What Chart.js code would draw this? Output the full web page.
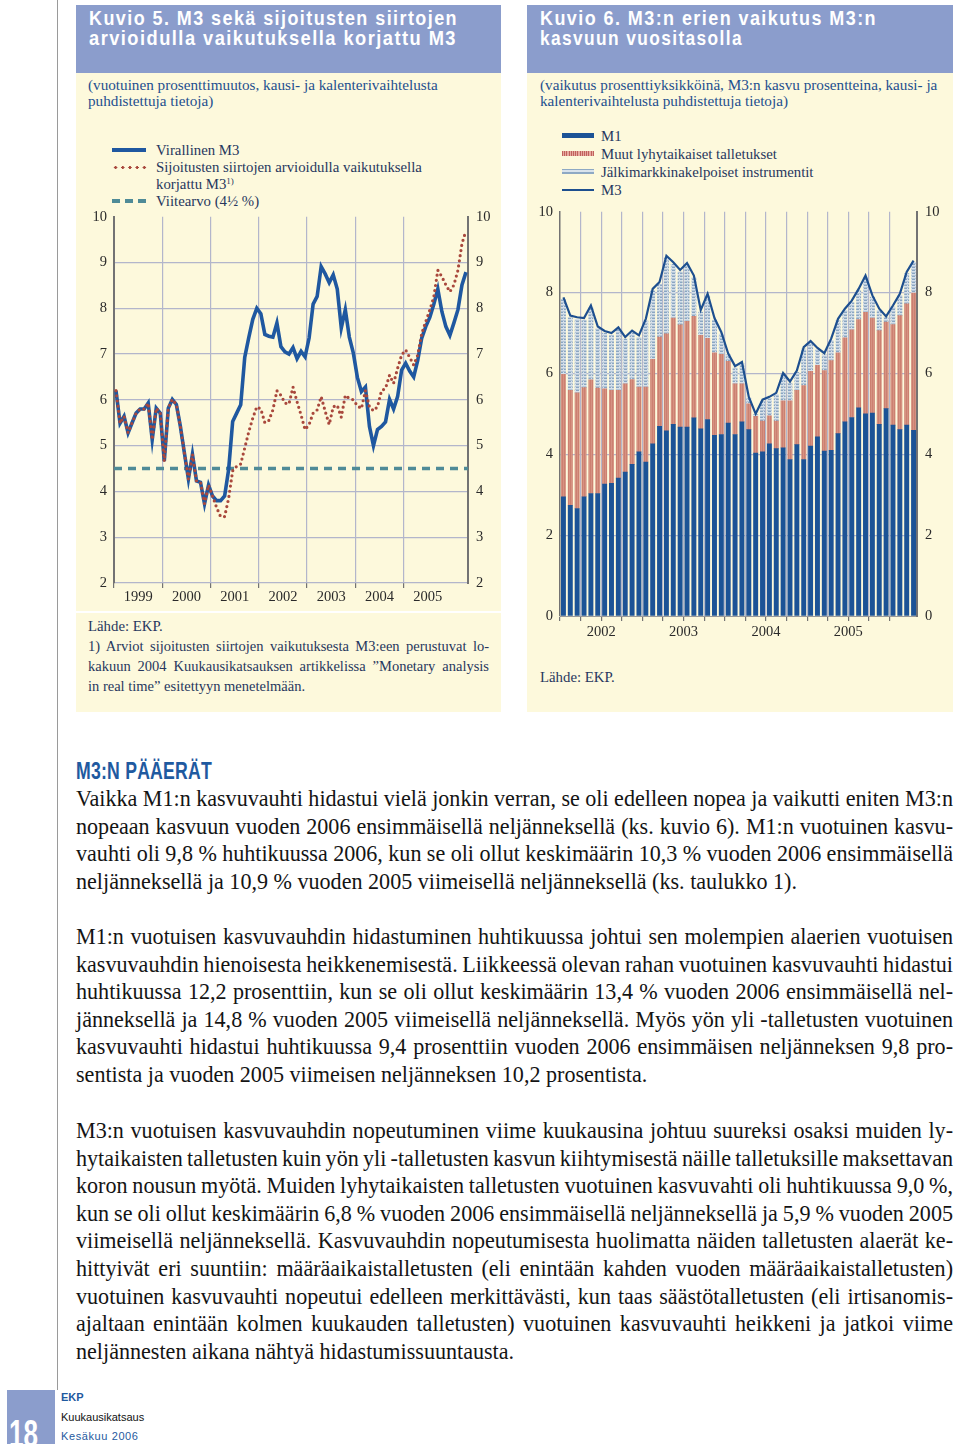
<!DOCTYPE html>
<html><head><meta charset="utf-8">
<script src="https://cdn.jsdelivr.net/npm/chart.js@4.4.0/dist/chart.umd.min.js"></script>
<style>
body{margin:0;width:960px;height:1444px;position:relative;background:#fff;overflow:hidden;font-family:'Liberation Serif','Times New Roman',serif;}
.abs{position:absolute;}
.panel{position:absolute;background:#fdf9dc;}
.tbar{position:absolute;background:#8b9dcc;}
.tline{position:absolute;color:#fff;font-family:'Liberation Sans',Arial,sans-serif;font-weight:bold;font-size:20px;letter-spacing:1.6px;line-height:20px;white-space:nowrap;transform-origin:0 50%;}
.sub{position:absolute;color:#1d4f8f;font-size:15.2px;line-height:16px;white-space:nowrap;}
.leg{position:absolute;color:#27375e;font-size:14.8px;line-height:17px;white-space:nowrap;}
.sym{position:absolute;}
.body{position:absolute;left:76px;width:877px;font-size:22.1px;line-height:27.6px;color:#141414;}
.body div, .fn div{white-space:nowrap;}
.fn{position:absolute;left:88px;width:401px;font-size:14.5px;line-height:20px;color:#27375e;}
.fit{display:inline-block;transform-origin:0 50%;white-space:nowrap;}
canvas{position:absolute;}
</style></head>
<body>
<!-- page margin line and page number -->
<div class="abs" style="left:57px;top:0;width:1px;height:1390px;background:#9a9a9a"></div>
<div class="abs" style="left:7px;top:1390px;width:48px;height:54px;background:#8b9dcc;overflow:hidden">
  <div class="abs" style="left:2px;top:24px;"><span class="fit" data-w="29" style="color:#fff;font-family:'Liberation Sans',Arial,sans-serif;font-weight:bold;font-size:39px;line-height:39px">18</span></div>
</div>
<div class="abs" style="left:61px;top:1390px;font-family:'Liberation Sans',sans-serif;font-size:11px;line-height:14px;font-weight:bold;color:#1f5aa0">EKP</div>
<div class="abs" style="left:61px;top:1410px;font-family:'Liberation Sans',sans-serif;font-size:11px;line-height:14px;color:#111">Kuukausikatsaus</div>
<div class="abs" style="left:61px;top:1429px;font-family:'Liberation Sans',sans-serif;font-size:11px;line-height:14px;letter-spacing:0.6px;color:#1f5aa0">Kesäkuu 2006</div>

<!-- Left panel -->
<div class="tbar" style="left:76px;top:5px;width:425px;height:68px"></div>
<div class="tline fit" data-w="369" style="left:89px;top:8px">Kuvio 5. M3 sekä sijoitusten siirtojen</div>
<div class="tline fit" data-w="368" style="left:89px;top:28px">arvioidulla vaikutuksella korjattu M3</div>
<div class="panel" style="left:76px;top:73px;width:425px;height:538px"></div>
<div class="panel" style="left:76px;top:613px;width:425px;height:99px"></div>
<div class="sub" style="left:88px;top:77px">(vuotuinen prosenttimuutos, kausi- ja kalenterivaihtelusta<br>puhdistettuja tietoja)</div>
<div class="sym" style="left:112px;top:148px;width:34px;height:3.5px;background:#1f58a0"></div>
<div class="sym" style="left:112px;top:165.5px;width:36px;height:3px;background:radial-gradient(circle,#a9483c 1.4px,transparent 1.6px) 0 0/7.2px 3px repeat-x"></div>
<div class="sym" style="left:112px;top:199px;width:36px;height:3.5px;background:repeating-linear-gradient(90deg,#4f8b97 0 8px,transparent 8px 13px)"></div>
<div class="leg" style="left:156px;top:141.5px">Virallinen M3<br>Sijoitusten siirtojen arvioidulla vaikutuksella<br>korjattu M3<sup style="font-size:9px;line-height:0;vertical-align:5px">1)</sup><br>Viitearvo (4½ %)</div>
<canvas id="c1" width="420" height="410" style="left:80px;top:200px"></canvas>
<div class="leg" style="left:88px;top:617px;line-height:18px">Lähde: EKP.</div>
<div class="fn" style="top:636px">
<div>1) Arviot sijoitusten siirtojen vaikutuksesta M3:een perustuvat lo-</div>
<div>kakuun 2004 Kuukausikatsauksen artikkelissa ”Monetary analysis</div>
<div class="last">in real time” esitettyyn menetelmään.</div>
</div>

<!-- Right panel -->
<div class="tbar" style="left:527px;top:5px;width:426px;height:68px"></div>
<div class="tline fit" data-w="337" style="left:540px;top:8px">Kuvio 6. M3:n erien vaikutus M3:n</div>
<div class="tline fit" data-w="203" style="left:540px;top:28px">kasvuun vuositasolla</div>
<div class="panel" style="left:527px;top:73px;width:426px;height:639px"></div>
<div class="sub" style="left:540px;top:77px">(vaikutus prosenttiyksikköinä, M3:n kasvu prosentteina, kausi- ja<br>kalenterivaihtelusta puhdistettuja tietoja)</div>
<div class="sym" style="left:562px;top:133px;width:32px;height:5px;background:#1c5396"></div>
<div class="sym" style="left:562px;top:151px;width:32px;height:5px;background:repeating-linear-gradient(90deg,#c0625c 0 1px,#e7aaa0 1px 2.2px)"></div>
<div class="sym" style="left:562px;top:169px;width:32px;height:5px;background:linear-gradient(#8ea9c4 0 1.5px,#d9e3ec 1.5px 3.5px,#8ea9c4 3.5px 5px)"></div>
<div class="sym" style="left:562px;top:188.5px;width:32px;height:2px;background:#1d4f8f"></div>
<div class="leg" style="left:601px;top:127px;line-height:18px">M1<br>Muut lyhytaikaiset talletukset<br>Jälkimarkkinakelpoiset instrumentit<br>M3</div>
<canvas id="c2" width="425" height="450" style="left:528px;top:195px"></canvas>
<div class="leg" style="left:540px;top:668px;line-height:18px">Lähde: EKP.</div>

<!-- Body text -->
<div class="abs" style="left:76px;top:757px;"><span class="fit" data-w="136" style="font-family:'Liberation Sans',Arial,sans-serif;font-weight:bold;font-size:24px;line-height:28px;color:#1f5aa0;letter-spacing:0.3px">M3:N PÄÄERÄT</span></div>
<div class="body" style="top:785px">
<div>Vaikka M1:n kasvuvauhti hidastui vielä jonkin verran, se oli edelleen nopea ja vaikutti eniten M3:n</div>
<div>nopeaan kasvuun vuoden 2006 ensimmäisellä neljänneksellä (ks. kuvio 6). M1:n vuotuinen kasvu-</div>
<div>vauhti oli 9,8 % huhtikuussa 2006, kun se oli ollut keskimäärin 10,3 % vuoden 2006 ensimmäisellä</div>
<div class="last">neljänneksellä ja 10,9 % vuoden 2005 viimeisellä neljänneksellä (ks. taulukko 1).</div>
</div>
<div class="body" style="top:923px">
<div>M1:n vuotuisen kasvuvauhdin hidastuminen huhtikuussa johtui sen molempien alaerien vuotuisen</div>
<div>kasvuvauhdin hienoisesta heikkenemisestä. Liikkeessä olevan rahan vuotuinen kasvuvauhti hidastui</div>
<div>huhtikuussa 12,2 prosenttiin, kun se oli ollut keskimäärin 13,4 % vuoden 2006 ensimmäisellä nel-</div>
<div>jänneksellä ja 14,8 % vuoden 2005 viimeisellä neljänneksellä. Myös yön yli -talletusten vuotuinen</div>
<div>kasvuvauhti hidastui huhtikuussa 9,4 prosenttiin vuoden 2006 ensimmäisen neljänneksen 9,8 pro-</div>
<div class="last">sentista ja vuoden 2005 viimeisen neljänneksen 10,2 prosentista.</div>
</div>
<div class="body" style="top:1117px">
<div>M3:n vuotuisen kasvuvauhdin nopeutuminen viime kuukausina johtuu suureksi osaksi muiden ly-</div>
<div>hytaikaisten talletusten kuin yön yli -talletusten kasvun kiihtymisestä näille talletuksille maksettavan</div>
<div>koron nousun myötä. Muiden lyhytaikaisten talletusten vuotuinen kasvuvahti oli huhtikuussa 9,0 %,</div>
<div>kun se oli ollut keskimäärin 6,8 % vuoden 2006 ensimmäisellä neljänneksellä ja 5,9 % vuoden 2005</div>
<div>viimeisellä neljänneksellä. Kasvuvauhdin nopeutumisesta huolimatta näiden talletusten alaerät ke-</div>
<div>hittyivät eri suuntiin: määräaikaistalletusten (eli enintään kahden vuoden määräaikaistalletusten)</div>
<div>vuotuinen kasvuvauhti nopeutui edelleen merkittävästi, kun taas säästötalletusten (eli irtisanomis-</div>
<div>ajaltaan enintään kolmen kuukauden talletusten) vuotuinen kasvuvauhti heikkeni ja jatkoi viime</div>
<div class="last">neljännesten aikana nähtyä hidastumissuuntausta.</div>
</div>

<script>
// ---------- text fitting (layout only) ----------
document.querySelectorAll('.fit').forEach(el => {
  const w = parseFloat(el.dataset.w);
  const nat = el.getBoundingClientRect().width;
  if (nat > 0) el.style.transform = 'scaleX(' + (w / nat) + ')';
});
function justify(sel, width) {
  document.querySelectorAll(sel).forEach(d => {
    if (d.classList.contains('last')) return;
    const span = document.createElement('span');
    span.textContent = d.textContent;
    d.textContent = '';
    d.appendChild(span);
    const nat = span.getBoundingClientRect().width;
    const spaces = (span.textContent.match(/ /g) || []).length;
    if (spaces > 0) d.style.wordSpacing = ((width - nat) / spaces) + 'px';
  });
}
justify('.body div', 877);
justify('.fn div', 401);

// ---------- Data: Kuvio 5 (monthly, Jan 1999 - Apr 2006) ----------
const yearsLeft = ['1999', '2000', '2001', '2002', '2003', '2004', '2005'];
const m3Official = [
  6.20, 5.49, 5.64, 5.28, 5.50, 5.71, 5.80, 5.80, 5.93, 5.13, 5.82, 5.71,
  4.66, 5.82, 6.01, 5.90, 5.42, 4.84, 4.27, 4.81, 4.23, 4.20, 3.73, 4.14,
  3.90, 3.80, 3.80, 3.90, 4.48, 5.53, 5.71, 5.89, 6.93, 7.36, 7.76, 8.00,
  7.88, 7.43, 7.39, 7.37, 7.68, 7.16, 7.05, 7.00, 7.14, 6.90, 7.06, 6.94,
  7.35, 8.09, 8.26, 8.91, 8.75, 8.56, 8.73, 8.42, 7.57, 7.97, 7.37, 7.02,
  6.49, 6.18, 6.28, 5.42, 5.00, 5.35, 5.42, 5.52, 6.01, 5.80, 6.07, 6.65,
  6.80, 6.63, 6.50, 6.86, 7.35, 7.60, 7.80, 8.09, 8.42, 7.93, 7.60, 7.41,
  7.68, 7.97, 8.51, 8.79
];
const m3Corrected = [
  6.20, 5.49, 5.64, 5.28, 5.50, 5.71, 5.80, 5.80, 5.93, 5.13, 5.82, 5.71,
  4.66, 5.82, 6.01, 5.90, 5.42, 4.84, 4.27, 4.81, 4.23, 4.20, 3.73, 4.14,
  3.90, 3.65, 3.45, 3.45, 3.85, 4.45, 4.55, 4.60, 4.95, 5.30, 5.60, 5.85,
  5.80, 5.50, 5.55, 5.78, 6.20, 6.10, 5.93, 5.91, 6.28, 5.96, 5.67, 5.35,
  5.46, 5.71, 5.78, 6.07, 5.75, 5.46, 5.85, 5.88, 5.62, 6.10, 6.03, 6.00,
  5.87, 5.81, 6.20, 5.85, 5.76, 5.85, 6.20, 6.25, 6.54, 6.36, 6.69, 6.98,
  7.09, 6.93, 6.76, 6.98, 7.45, 7.71, 7.96, 8.25, 8.83, 8.69, 8.51, 8.36,
  8.51, 8.83, 9.41, 9.70
];
const referenceValue = 4.5;

// ---------- Data: Kuvio 6 (monthly, Jan 2002 - Apr 2006) ----------
const yearsRight = ['2002', '2003', '2004', '2005'];
const m1Contribution = [
  2.95, 2.74, 2.66, 2.95, 3.03, 3.03, 3.26, 3.28, 3.41, 3.56, 3.75, 4.06,
  3.81, 4.26, 4.69, 4.58, 4.74, 4.67, 4.67, 4.90, 4.63, 4.86, 4.47, 4.49,
  4.77, 4.49, 4.80, 4.61, 4.03, 4.06, 4.26, 4.14, 4.16, 3.87, 4.24, 3.87,
  4.20, 4.43, 4.08, 4.10, 4.51, 4.80, 4.91, 5.15, 5.00, 5.02, 4.74, 5.13,
  4.72, 4.61, 4.72, 4.59
];
const otherShortTermDeposits = [
  3.03, 2.84, 2.86, 2.70, 2.81, 2.61, 2.36, 2.30, 2.17, 2.18, 2.10, 1.60,
  1.85, 2.09, 2.21, 2.40, 2.63, 2.53, 2.62, 2.51, 2.31, 2.01, 2.04, 1.98,
  1.53, 1.25, 0.94, 0.64, 0.91, 0.76, 0.69, 0.68, 1.16, 1.45, 1.34, 1.83,
  1.85, 1.77, 1.99, 2.22, 2.00, 2.08, 2.17, 2.18, 2.51, 2.35, 2.32, 2.14,
  2.49, 2.82, 3.00, 3.40
];
const marketableInstruments = [
  1.85, 1.80, 1.82, 1.67, 1.79, 1.47, 1.38, 1.37, 1.51, 1.11, 1.16, 1.23,
  1.64, 1.69, 1.31, 1.88, 1.33, 1.31, 1.39, 0.96, 0.58, 1.05, 0.81, 0.50,
  0.16, 0.40, 0.50, 0.14, 0.04, 0.49, 0.43, 0.66, 0.65, 0.44, 0.45, 0.90,
  0.70, 0.39, 0.39, 0.50, 0.80, 0.68, 0.68, 0.72, 0.87, 0.52, 0.50, 0.11,
  0.43, 0.50, 0.75, 0.76
];
const m3Growth = [
  7.88, 7.43, 7.39, 7.37, 7.68, 7.16, 7.05, 7.00, 7.14, 6.90, 7.06, 6.94,
  7.35, 8.09, 8.26, 8.91, 8.75, 8.56, 8.73, 8.42, 7.57, 7.97, 7.37, 7.02,
  6.49, 6.18, 6.28, 5.42, 5.00, 5.35, 5.42, 5.52, 6.01, 5.80, 6.07, 6.65,
  6.80, 6.63, 6.50, 6.86, 7.35, 7.60, 7.80, 8.09, 8.42, 7.93, 7.60, 7.41,
  7.68, 7.97, 8.51, 8.79
];

// ---------- helpers ----------
const monthly = arr => arr.map((v, i) => ({x: i + 0.5, y: v}));
const GRID = '#b3b6cb';
const AXIS = '#737373';
const TICKFONT = {family: "'Liberation Serif', 'Times New Roman', serif", size: 14.5};
const TICKCOL = '#2a2a2a';
Chart.defaults.font.family = TICKFONT.family;

// ---------- Chart 1 ----------
const nLeft = m3Official.length;
new Chart(document.getElementById('c1'), {
  type: 'line',
  data: {
    datasets: [
      {label: 'Sijoitusten siirtojen arvioidulla vaikutuksella korjattu M3', data: monthly(m3Corrected),
       borderColor: '#a9483c', borderWidth: 3.2, borderDash: [0, 5.2], borderCapStyle: 'round',
       pointRadius: 0, tension: 0, order: 0},
      {label: 'Virallinen M3', data: monthly(m3Official), borderColor: '#1f58a0', borderWidth: 3.6,
       pointRadius: 0, tension: 0, order: 1, borderJoinStyle: 'miter'},
      {label: 'Viitearvo (4½ %)', data: [{x: 0, y: referenceValue}, {x: nLeft, y: referenceValue}],
       borderColor: '#4f8b97', borderWidth: 3.6, borderDash: [8, 6], pointRadius: 0, order: 2}
    ]
  },
  options: {
    responsive: false, animation: false, devicePixelRatio: 1,
    layout: {padding: {top: 16, left: 0, right: 0, bottom: 0}},
    plugins: {legend: {display: false}, tooltip: {enabled: false}},
    scales: {
      x: {
        type: 'linear', min: 0, max: nLeft,
        afterFit: s => { s.height = 27; },
        border: {display: false},
        grid: {
          color: c => (c.tick && c.tick.value % 12 === 0 && c.tick.value > 0) ? GRID : 'rgba(0,0,0,0)',
          tickColor: c => (c.tick && c.tick.value % 12 === 0) ? AXIS : 'rgba(0,0,0,0)',
          lineWidth: 1.2, tickLength: 5, drawTicks: true
        },
        ticks: {
          stepSize: 6, autoSkip: false, maxRotation: 0, padding: 0, font: TICKFONT, color: TICKCOL,
          callback: v => (v % 12 === 6) ? yearsLeft[(v - 6) / 12] : ''
        }
      },
      y: {
        position: 'left', min: 2, max: 10,
        afterFit: s => { s.width = 34; },
        border: {display: true, color: AXIS, width: 2},
        grid: {color: c => (c.tick && c.tick.value < 10) ? GRID : 'rgba(0,0,0,0)', lineWidth: 1.2, drawTicks: false},
        ticks: {stepSize: 1, padding: 7, font: TICKFONT, color: TICKCOL}
      },
      yR: {
        position: 'right', min: 2, max: 10,
        afterFit: s => { s.width = 32; },
        border: {display: true, color: AXIS, width: 2},
        grid: {display: false, drawTicks: false},
        ticks: {stepSize: 1, padding: 8, font: TICKFONT, color: TICKCOL}
      }
    }
  }
});

// ---------- Chart 2 ----------
function stripePattern() {
  const p = document.createElement('canvas');
  p.width = 4; p.height = 3;
  const g = p.getContext('2d');
  g.fillStyle = '#d6e0ea'; g.fillRect(0, 0, 4, 3);
  g.fillStyle = '#8aa6c2'; g.fillRect(0, 0, 3, 1);
  g.fillStyle = '#b4c6d7'; g.fillRect(0, 2, 4, 1);
  return g.createPattern(p, 'repeat');
}
function redPattern() {
  const p = document.createElement('canvas');
  p.width = 2; p.height = 2;
  const g = p.getContext('2d');
  g.fillStyle = '#d69282'; g.fillRect(0, 0, 2, 2);
  g.fillStyle = '#cc8070'; g.fillRect(0, 0, 1, 2);
  return g.createPattern(p, 'repeat');
}
const ctx2 = document.getElementById('c2').getContext('2d');
const nRight = m3Growth.length;
const BARW = 4.3;
new Chart(ctx2, {
  type: 'bar',
  data: {
    datasets: [
      {type: 'line', label: 'M3', data: monthly(m3Growth), yAxisID: 'yR', borderColor: '#1d4f8f',
       borderWidth: 2.2, pointRadius: 0, tension: 0, order: 0},
      {label: 'M1', data: monthly(m1Contribution), backgroundColor: '#1c5396', barThickness: BARW, order: 1},
      {label: 'Muut lyhytaikaiset talletukset', data: monthly(otherShortTermDeposits), backgroundColor: redPattern(), barThickness: BARW, order: 2},
      {label: 'Jälkimarkkinakelpoiset instrumentit', data: monthly(marketableInstruments), backgroundColor: stripePattern(), barThickness: BARW, order: 3}
    ]
  },
  options: {
    responsive: false, animation: false, devicePixelRatio: 1,
    layout: {padding: {top: 16, left: 0, right: 0, bottom: 0}},
    plugins: {legend: {display: false}, tooltip: {enabled: false}},
    scales: {
      x: {
        type: 'linear', min: 0, max: nRight, stacked: true, offset: false,
        afterFit: s => { s.height = 29; },
        border: {display: true, color: '#9a9a9a', width: 1},
        grid: {
          color: c => (c.tick && c.tick.value % 3 === 0 && c.tick.value > 0 && c.tick.value < nRight) ? GRID : 'rgba(0,0,0,0)',
          tickColor: c => (c.tick && c.tick.value % 3 === 0) ? AXIS : 'rgba(0,0,0,0)',
          lineWidth: 1.2, tickLength: 5, drawTicks: true, offset: false
        },
        ticks: {
          stepSize: 3, autoSkip: false, maxRotation: 0, padding: 2, font: TICKFONT, color: TICKCOL,
          callback: v => (v % 12 === 6) ? yearsRight[(v - 6) / 12] : ''
        }
      },
      y: {
        position: 'left', min: 0, max: 10, stacked: true,
        afterFit: s => { s.width = 32; },
        border: {display: true, color: AXIS, width: 1.5},
        grid: {color: c => (c.tick && c.tick.value > 0 && c.tick.value < 10) ? GRID : 'rgba(0,0,0,0)', lineWidth: 1.2, drawTicks: false},
        ticks: {stepSize: 2, padding: 7, font: TICKFONT, color: TICKCOL}
      },
      yR: {
        position: 'right', min: 0, max: 10,
        afterFit: s => { s.width = 36; },
        border: {display: true, color: AXIS, width: 2},
        grid: {display: false, drawTicks: false},
        ticks: {stepSize: 2, padding: 8, font: TICKFONT, color: TICKCOL}
      }
    }
  }
});
</script>
</body></html>
